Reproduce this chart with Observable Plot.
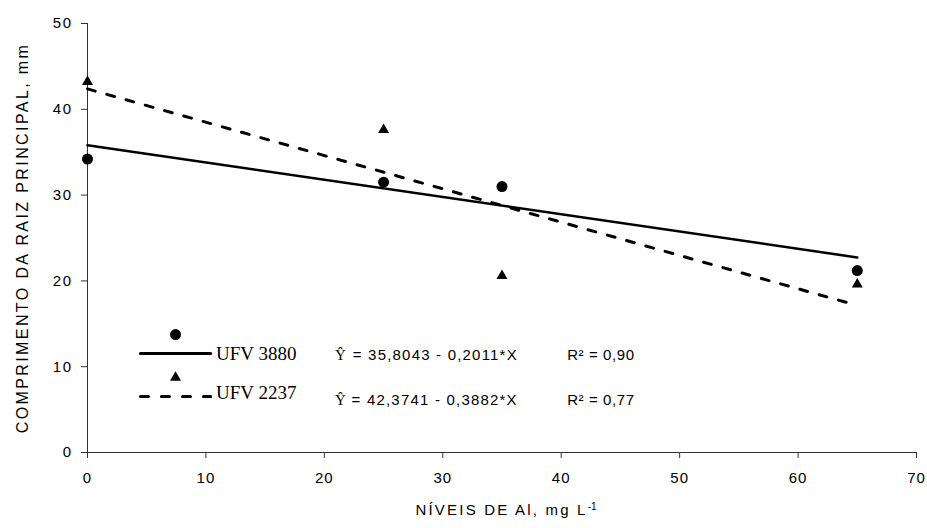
<!DOCTYPE html>
<html>
<head>
<meta charset="utf-8">
<script src="https://cdn.jsdelivr.net/npm/d3@7"></script>
<script src="https://cdn.jsdelivr.net/npm/@observablehq/plot@0.6"></script>
<style>
  html, body { margin: 0; padding: 0; background: #fff; }
  #chart svg { display: block; }
</style>
</head>
<body>
<div id="chart"></div>
<script>
// Aluminium levels (mg/L) tested
const levels = [0, 25, 35, 65];
// Main root length (mm) per cultivar
const ufv3880 = [34.2, 31.5, 31.0, 21.2];
const ufv2237 = [43.2, 37.6, 20.6, 19.6];
// Fitted linear models: intercept, slope, R²
const cultivars = ["UFV 3880", "UFV 2237"];
const intercepts = [35.8043, 42.3741];
const slopes = [-0.2011, -0.3882];
const r2Labels = ["0,90", "0,77"];
const eqLabels = ["35,8043 - 0,2011*X", "42,3741 - 0,3882*X"];
const xTicks = [0, 10, 20, 30, 40, 50, 60, 70];
const yTicks = [0, 10, 20, 30, 40, 50];
const xTitle = "NÍVEIS DE Al, mg L";
const yTitle = "COMPRIMENTO DA RAIZ PRINCIPAL, mm";

const obs = levels.flatMap((x, i) => [
  {x, y: ufv3880[i], cv: cultivars[0]},
  {x, y: ufv2237[i], cv: cultivars[1]}
]);

// Fitted lines evaluated across the observed range
const fit = (k) => [0, 65].map((x) => ({x, y: intercepts[k] + slopes[k] * x}));

// Legend rows, placed in data units inside the lower-left of the plot
const legend = [
  {sym: "circle", r: 5.5, lx: [4.47, 10.4], ly: 11.54, my: 13.75, ty: 11.54, ey: 11.3, eqx: 22.4, label: cultivars[0], eq: eqLabels[0], r2: r2Labels[0], dash: null},
  {sym: "triangle", r: 4.1, lx: [4.47, 10.4], ly: 6.53, my: 8.74, ty: 7.0, ey: 6.1, eqx: 22.3, label: cultivars[1], eq: eqLabels[1], r2: r2Labels[1], dash: "8,13"}
];

const sans = "'Liberation Sans', Arial, sans-serif";
const serif = "'Liberation Serif', 'Times New Roman', serif";

const plot = Plot.plot({
  width: 927,
  height: 528,
  marginLeft: 87,
  marginRight: 11,
  marginTop: 23,
  marginBottom: 76,
  style: {fontFamily: sans, fontSize: "15px", color: "#000", background: "#fff"},
  x: {domain: [0, 70], label: null},
  y: {domain: [0, 50], label: null},
  marks: [
    // axes
    Plot.ruleY([0], {stroke: "#333", strokeWidth: 1}),
    Plot.ruleX([0], {stroke: "#333", strokeWidth: 1}),
    Plot.axisX({ticks: xTicks, tickSize: 6, tickPadding: 14, stroke: "#333", fontFamily: sans, fontSize: 15, label: null, tickFormat: (d) => d}),
    Plot.axisY({ticks: yTicks, tickSize: 6, tickPadding: 9, stroke: "#333", fontFamily: sans, fontSize: 15, label: null, tickFormat: (d) => d}),
    // axis titles
    Plot.text([xTitle], {frameAnchor: "bottom", dy: 62, dx: 4, fontFamily: sans, fontSize: 15}),
    Plot.text([yTitle], {frameAnchor: "left", dx: -65, rotate: -90, textAnchor: "middle", fontFamily: sans, fontSize: 16}),
    // fitted lines
    Plot.line(fit(0), {x: "x", y: "y", stroke: "#000", strokeWidth: 2.5}),
    Plot.line(fit(1), {x: "x", y: "y", stroke: "#000", strokeWidth: 3, strokeDasharray: "8,12"}),
    // observations
    Plot.dot(obs.filter((d) => d.cv === cultivars[0]), {x: "x", y: "y", r: 5.5, fill: "#000", symbol: "circle"}),
    Plot.dot(obs.filter((d) => d.cv === cultivars[1]), {x: "x", y: "y", r: 4.1, fill: "#000", symbol: "triangle"}),
    // legend with fitted equations
    ...legend.flatMap((l) => [
      Plot.line(l.lx.map((x) => ({x, y: l.ly})), {x: "x", y: "y", stroke: "#000", strokeWidth: 3, strokeDasharray: l.dash}),
      Plot.dot([{x: (l.lx[0] + l.lx[1]) / 2, y: l.my}], {x: "x", y: "y", r: l.r, fill: "#000", symbol: l.sym}),
      Plot.text([l.label], {x: l.lx[1] + 0.45, y: l.ty, textAnchor: "start", fontFamily: serif, fontSize: 19}),
      Plot.text(["Ŷ"], {x: 20.9, y: l.ey, textAnchor: "start", fontFamily: serif, fontSize: 15}),
      Plot.text(["= " + l.eq], {x: l.eqx, y: l.ey, textAnchor: "start", fontFamily: sans, fontSize: 15}),
      Plot.text(["R² = " + l.r2], {x: 40.5, y: l.ey, textAnchor: "start", fontFamily: sans, fontSize: 15})
    ])
  ]
});

// Excel-style tracking on the sans-serif labels
const svg = d3.select(plot);
const spacing = (px) => function () { d3.select(this).attr("letter-spacing", px); };
svg.selectAll('g[aria-label="x-axis tick label"] text').each(spacing("1px"));
svg.selectAll('g[aria-label="y-axis tick label"] text').each(spacing("1.5px"));
svg.selectAll("text").each(function () {
  const t = this.textContent;
  if (t === yTitle) d3.select(this).attr("letter-spacing", "2.4px");
  else if (t === xTitle) {
    d3.select(this).attr("letter-spacing", "2.2px");
    // superscript exponent on the x-axis title
    d3.select(this).append("tspan").attr("baseline-shift", "super").attr("font-size", 10).attr("letter-spacing", "0px").text("-1");
  }
  else if (t.startsWith("= ")) d3.select(this).attr("letter-spacing", "1.2px");
  else if (t.startsWith("R² = ")) d3.select(this).attr("letter-spacing", "0.6px");
});

document.getElementById("chart").appendChild(plot);
</script>
</body>
</html>
